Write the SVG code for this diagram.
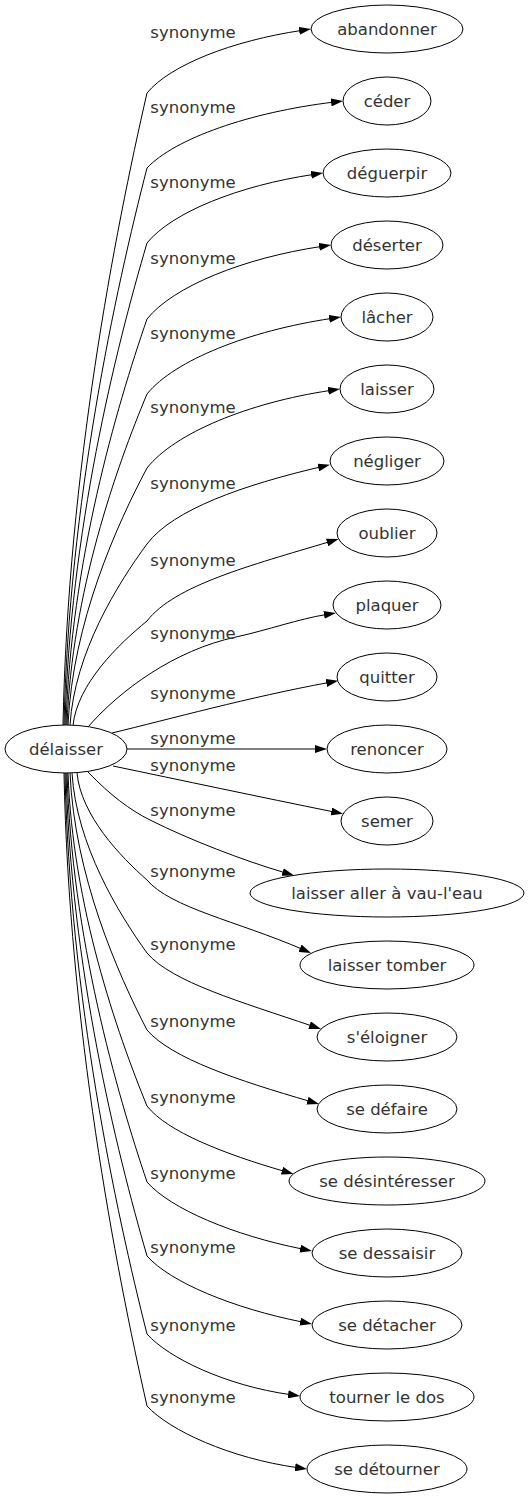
<svg xmlns="http://www.w3.org/2000/svg" width="529" height="1499" viewBox="0 0 529 1499">
<style>
.n ellipse{fill:#fff;stroke:#000;stroke-width:1}
text{font-family:"DejaVu Sans","Liberation Sans",sans-serif;font-size:16.5px;fill:#333;text-anchor:middle}
.e path{fill:none;stroke:#000;stroke-width:1;marker-end:url(#ah)}
</style>
<defs>
<marker id="ah" viewBox="0 0 12 8" refX="2" refY="4" markerWidth="12" markerHeight="8" markerUnits="userSpaceOnUse" orient="auto"><path d="M0,0 L12,4 L0,8 z" fill="#000" stroke="none"/></marker>
</defs>
<g id="edges" class="e">
<path d="M63,725 C68,472.2 115.1,232 147,93 C170.1,64.9 232.6,40.8 301.1,30.5"/>
<path d="M64,725 C69,502.2 115.5,290.5 147,168 C174.9,138.4 250,112.2 333.1,102.2"/>
<path d="M65,725 C69.9,532.2 115.8,349 147,243 C171.9,212.2 239.2,185.6 313.1,174.5"/>
<path d="M66,725 C70.9,562.6 116.2,408.3 147,319 C173.1,286.4 243.7,258.1 321.1,246.5"/>
<path d="M67,725 C71.8,592.6 116.6,466.8 147,394 C174.6,360 249.2,330.8 331.1,318.5"/>
<path d="M68,725 C72.7,622.2 117,524.5 147,468 C174.5,433.1 248.6,402.7 330.1,390.5"/>
<path d="M70,725 C74.6,652.6 117.7,583.8 147,544 C173,509.4 243.8,485 320.2,467"/>
<path d="M73,725.5 C77.4,683.7 118.9,644 147,621 C174.3,585.4 250.5,565.4 329,541.9"/>
<path d="M88,727 C120,690 175,650 236,637 C268,630 299.5,618.7 326,614.6"/>
<path d="M112,733 C170,719 250,697 328.3,682.6"/>
<path d="M127,749 L317,749"/>
<path d="M113,766 C180,780 260,797 333.3,811.8"/>
<path d="M88,772 C110,795 130,810 150,820 C190,840 242,860 284.5,872.6"/>
<path d="M77,773 C81.2,815.8 120.4,856.5 147,880 C170.2,907.6 237.8,921.5 301.8,949"/>
<path d="M72,773 C76.5,845 118.5,913.4 147,953 C171.7,982.1 241.4,1002 311.5,1025.8"/>
<path d="M70,773 C74.6,875.8 117.7,973.5 147,1030 C171.4,1058.5 239.2,1080.8 309.4,1101.2"/>
<path d="M68,773 C72.7,906.2 117,1032.7 147,1106 C167.5,1132.1 224.8,1154 283.9,1171.2"/>
<path d="M67,773 C71.8,936.6 116.6,1092 147,1182 C170.3,1208.8 233.7,1235.3 302.2,1249"/>
<path d="M66,773 C70.9,966.2 116.2,1149.7 147,1256 C170.3,1282.4 233.7,1308.3 302.2,1322"/>
<path d="M65,773 C69.9,997.4 115.8,1210.6 147,1334 C168.5,1358.2 226.3,1385.6 290.1,1394.6"/>
<path d="M64,773 C69,1026.2 115.5,1266.7 147,1406 C169.5,1430.6 230.3,1458.2 297.1,1467.6"/>
</g>
<g id="edge-labels">
<text x="193" y="38">synonyme</text>
<text x="193" y="113">synonyme</text>
<text x="193" y="188">synonyme</text>
<text x="193" y="264">synonyme</text>
<text x="193" y="339">synonyme</text>
<text x="193" y="413">synonyme</text>
<text x="193" y="489">synonyme</text>
<text x="193" y="566">synonyme</text>
<text x="193" y="639">synonyme</text>
<text x="193" y="699">synonyme</text>
<text x="193" y="744">synonyme</text>
<text x="193" y="771">synonyme</text>
<text x="193" y="816">synonyme</text>
<text x="193" y="877">synonyme</text>
<text x="193" y="950">synonyme</text>
<text x="193" y="1027">synonyme</text>
<text x="193" y="1103">synonyme</text>
<text x="193" y="1179">synonyme</text>
<text x="193" y="1253">synonyme</text>
<text x="193" y="1331">synonyme</text>
<text x="193" y="1403">synonyme</text>
</g>
<g id="node-delaisser" class="n"><ellipse cx="66" cy="749" rx="61" ry="24"/><text x="66" y="754.5">délaisser</text></g>
<g id="node-abandonner" class="n"><ellipse cx="387" cy="29" rx="76" ry="24"/><text x="387" y="34.5">abandonner</text></g>
<g id="node-ceder" class="n"><ellipse cx="387" cy="101" rx="44" ry="24"/><text x="387" y="106.5">céder</text></g>
<g id="node-deguerpir" class="n"><ellipse cx="387" cy="173" rx="64" ry="24"/><text x="387" y="178.5">déguerpir</text></g>
<g id="node-deserter" class="n"><ellipse cx="387" cy="245" rx="56" ry="24"/><text x="387" y="250.5">déserter</text></g>
<g id="node-lacher" class="n"><ellipse cx="387" cy="317" rx="46" ry="24"/><text x="387" y="322.5">lâcher</text></g>
<g id="node-laisser" class="n"><ellipse cx="387" cy="389" rx="47" ry="24"/><text x="387" y="394.5">laisser</text></g>
<g id="node-negliger" class="n"><ellipse cx="387" cy="461" rx="57" ry="24"/><text x="387" y="466.5">négliger</text></g>
<g id="node-oublier" class="n"><ellipse cx="387" cy="533" rx="50" ry="24"/><text x="387" y="538.5">oublier</text></g>
<g id="node-plaquer" class="n"><ellipse cx="387" cy="605" rx="54" ry="24"/><text x="387" y="610.5">plaquer</text></g>
<g id="node-quitter" class="n"><ellipse cx="387" cy="677" rx="50" ry="24"/><text x="387" y="682.5">quitter</text></g>
<g id="node-renoncer" class="n"><ellipse cx="387" cy="749" rx="60" ry="24"/><text x="387" y="754.5">renoncer</text></g>
<g id="node-semer" class="n"><ellipse cx="387" cy="821" rx="46" ry="24"/><text x="387" y="826.5">semer</text></g>
<g id="node-laisser-aller" class="n"><ellipse cx="387" cy="893" rx="137" ry="24"/><text x="387" y="898.5">laisser aller à vau-l'eau</text></g>
<g id="node-laisser-tomber" class="n"><ellipse cx="387" cy="965" rx="87" ry="24"/><text x="387" y="970.5">laisser tomber</text></g>
<g id="node-seloigner" class="n"><ellipse cx="387" cy="1037" rx="70" ry="24"/><text x="387" y="1042.5">s'éloigner</text></g>
<g id="node-se-defaire" class="n"><ellipse cx="387" cy="1109" rx="70" ry="24"/><text x="387" y="1114.5">se défaire</text></g>
<g id="node-se-desinteresser" class="n"><ellipse cx="387" cy="1181" rx="98" ry="24"/><text x="387" y="1186.5">se désintéresser</text></g>
<g id="node-se-dessaisir" class="n"><ellipse cx="387" cy="1253" rx="75" ry="24"/><text x="387" y="1258.5">se dessaisir</text></g>
<g id="node-se-detacher" class="n"><ellipse cx="387" cy="1325" rx="75" ry="24"/><text x="387" y="1330.5">se détacher</text></g>
<g id="node-tourner-le-dos" class="n"><ellipse cx="387" cy="1397" rx="87" ry="24"/><text x="387" y="1402.5">tourner le dos</text></g>
<g id="node-se-detourner" class="n"><ellipse cx="387" cy="1469" rx="80" ry="24"/><text x="387" y="1474.5">se détourner</text></g>
</svg>
